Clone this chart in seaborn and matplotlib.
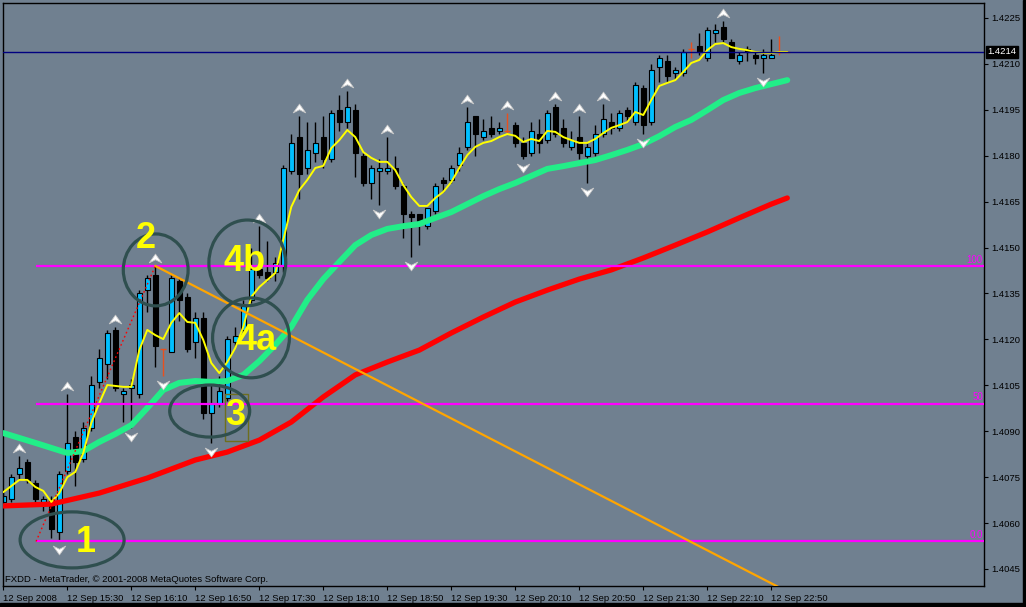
import numpy as np
import pandas as pd
import matplotlib
matplotlib.use('Agg')
import matplotlib.pyplot as plt
import matplotlib.transforms as mtransforms
from matplotlib.path import Path
from matplotlib.patches import Ellipse, Rectangle
import seaborn as sns

# M5 bars, 12 Sep 2008 from 14:50 to 23:00 (bar index 0..98)
opens = [1.4067, 1.4068, 1.4076, 1.4080, 1.4073, 1.4067, 1.4068, 1.4057, 1.4077, 1.4088,
         1.4081, 1.4091, 1.4106, 1.4112, 1.4123, 1.4102, 1.4104, 1.4102, 1.4136, 1.4141,
         1.4117, 1.4116, 1.4139, 1.4134, 1.4119, 1.4127, 1.4096, 1.4099, 1.4101, 1.4119,
         1.4123, 1.4133, 1.4143, 1.4142, 1.4142, 1.4144, 1.4175, 1.4186, 1.4176, 1.4181,
         1.4186, 1.4179, 1.4195, 1.4191, 1.4195, 1.4180, 1.4171, 1.4175, 1.4175, 1.4176,
         1.4170, 1.4161, 1.4161, 1.4157, 1.4162, 1.4172, 1.4172, 1.4177, 1.4183, 1.4193,
         1.4186, 1.4189, 1.4188, 1.4188, 1.4190, 1.4184, 1.4181, 1.4187, 1.4185, 1.4196,
         1.4189, 1.4183, 1.4186, 1.4180, 1.4181, 1.4187, 1.4191, 1.4189, 1.4195, 1.4191,
         1.4202, 1.4191, 1.4209, 1.4211, 1.4207, 1.4207, 1.4215, 1.4216, 1.4212, 1.4220,
         1.4222, 1.4217, 1.4211, 1.4215, 1.4213, 1.4212, 1.4212, 1.4214, 1.4214]
highs = [1.4070, 1.4076, 1.4082, 1.4081, 1.4074, 1.4069, 1.4069, 1.4077, 1.4102, 1.4090,
         1.4093, 1.4108, 1.4117, 1.4123, 1.4124, 1.4104, 1.4107, 1.4136, 1.4141, 1.4144,
         1.4117, 1.4141, 1.4140, 1.4135, 1.4129, 1.4129, 1.4105, 1.4108, 1.4121, 1.4124,
         1.4133, 1.4150, 1.4157, 1.4152, 1.4147, 1.4177, 1.4187, 1.4193, 1.4191, 1.4191,
         1.4193, 1.4195, 1.4200, 1.4201, 1.4197, 1.4181, 1.4177, 1.4179, 1.4186, 1.4180,
         1.4171, 1.4162, 1.4161, 1.4163, 1.4171, 1.4173, 1.4177, 1.4183, 1.4196, 1.4193,
         1.4192, 1.4193, 1.4191, 1.4194, 1.4191, 1.4186, 1.4191, 1.4192, 1.4195, 1.4197,
         1.4192, 1.4188, 1.4193, 1.4184, 1.4190, 1.4197, 1.4194, 1.4195, 1.4196, 1.4204,
         1.4203, 1.4210, 1.4213, 1.4213, 1.4209, 1.4215, 1.4217, 1.4220, 1.4222, 1.4223,
         1.4224, 1.4218, 1.4214, 1.4216, 1.4214, 1.4215, 1.4218, 1.4219, 1.4214]
lows = [1.4066, 1.4067, 1.4074, 1.4073, 1.4067, 1.4064, 1.4055, 1.4054, 1.4076, 1.4072,
        1.4080, 1.4090, 1.4104, 1.4107, 1.4103, 1.4093, 1.4091, 1.4101, 1.4129, 1.4111,
        1.4108, 1.4116, 1.4126, 1.4116, 1.4114, 1.4094, 1.4086, 1.4098, 1.4100, 1.4118,
        1.4122, 1.4132, 1.4140, 1.4139, 1.4139, 1.4142, 1.4174, 1.4166, 1.4174, 1.4178,
        1.4176, 1.4178, 1.4188, 1.4189, 1.4173, 1.4170, 1.4166, 1.4164, 1.4174, 1.4169,
        1.4153, 1.4147, 1.4151, 1.4156, 1.4161, 1.4168, 1.4171, 1.4175, 1.4182, 1.4180,
        1.4185, 1.4186, 1.4187, 1.4187, 1.4183, 1.4179, 1.4180, 1.4181, 1.4184, 1.4186,
        1.4183, 1.4182, 1.4179, 1.4171, 1.4180, 1.4186, 1.4187, 1.4188, 1.4191, 1.4190,
        1.4187, 1.4190, 1.4204, 1.4204, 1.4205, 1.4206, 1.4212, 1.4213, 1.4211, 1.4217,
        1.4217, 1.4212, 1.4210, 1.4211, 1.4210, 1.4207, 1.4212, 1.4213, 1.4214]
closes = [1.4069, 1.4075, 1.4078, 1.4074, 1.4068, 1.4068, 1.4058, 1.4076, 1.4086, 1.4080,
          1.4091, 1.4105, 1.4114, 1.4122, 1.4104, 1.4103, 1.4105, 1.4135, 1.4140, 1.4118,
          1.4117, 1.4140, 1.4133, 1.4117, 1.4127, 1.4096, 1.4099, 1.4103, 1.4120, 1.4121,
          1.4131, 1.4143, 1.4141, 1.4140, 1.4145, 1.4176, 1.4184, 1.4174, 1.4182, 1.4184,
          1.4179, 1.4194, 1.4191, 1.4196, 1.4181, 1.4171, 1.4176, 1.4176, 1.4176, 1.4170,
          1.4161, 1.4160, 1.4158, 1.4163, 1.4170, 1.4171, 1.4176, 1.4181, 1.4191, 1.4187,
          1.4188, 1.4187, 1.4189, 1.4188, 1.4184, 1.4180, 1.4188, 1.4184, 1.4194, 1.4187,
          1.4184, 1.4185, 1.4181, 1.4183, 1.4187, 1.4192, 1.4189, 1.4194, 1.4193, 1.4203,
          1.4190, 1.4208, 1.4212, 1.4206, 1.4208, 1.4214, 1.4215, 1.4214, 1.4221, 1.4221,
          1.4218, 1.4212, 1.4213, 1.4214, 1.4212, 1.4213, 1.4213, 1.4214, 1.4214]

# fast MA (yellow), one value per bar
ma_fast = [1.40701, 1.40721, 1.40741, 1.40741, 1.40718, 1.40705, 1.40669, 1.40698, 1.40750, 1.40767,
           1.40829, 1.40927, 1.40992, 1.41051, 1.41048, 1.41045, 1.41045, 1.41165, 1.41231, 1.41214,
           1.41201, 1.41254, 1.41286, 1.41257, 1.41254, 1.41198, 1.41123, 1.41090, 1.41126, 1.41172,
           1.41241, 1.41339, 1.41371, 1.41394, 1.41417, 1.41525, 1.41633, 1.41688, 1.41721, 1.41760,
           1.41767, 1.41825, 1.41851, 1.41884, 1.41861, 1.41812, 1.41793, 1.41780, 1.41780, 1.41753,
           1.41704, 1.41665, 1.41636, 1.41636, 1.41662, 1.41682, 1.41714, 1.41760, 1.41802, 1.41829,
           1.41842, 1.41848, 1.41861, 1.41871, 1.41865, 1.41845, 1.41855, 1.41848, 1.41881, 1.41878,
           1.41861, 1.41851, 1.41842, 1.41842, 1.41855, 1.41874, 1.41891, 1.41900, 1.41910, 1.41943,
           1.41933, 1.41982, 1.42028, 1.42038, 1.42047, 1.42074, 1.42103, 1.42113, 1.42145, 1.42165,
           1.42168, 1.42155, 1.42149, 1.42145, 1.42139, 1.42136, 1.42136, 1.42139, 1.42139]

# medium MA (green), read every second bar
ma_mid_bars = [0, 4, 8, 10, 12, 14, 16, 18, 20, 22, 24, 26, 28, 30, 32, 34, 36, 38, 40, 42, 44, 46, 48, 50,
               52, 54, 56, 58, 60, 62, 64, 66, 68, 70, 72, 74, 76, 78, 80, 82, 84, 86, 88, 90, 92, 94, 96, 98]
ma_mid = [1.40894, 1.40862, 1.40829, 1.40835, 1.40865, 1.40891, 1.40920, 1.40976, 1.41035, 1.41058,
          1.41064, 1.41061, 1.41064, 1.41084, 1.41129, 1.41182, 1.41241, 1.41329, 1.41397, 1.41453,
          1.41508, 1.41541, 1.41561, 1.41570, 1.41577, 1.41597, 1.41616, 1.41642, 1.41668, 1.41691,
          1.41711, 1.41734, 1.41757, 1.41766, 1.41776, 1.41786, 1.41802, 1.41819, 1.41838, 1.41864,
          1.41894, 1.41917, 1.41949, 1.41982, 1.42005, 1.42021, 1.42034, 1.42047]

# slow MA (red)
ma_slow_bars = [0, 6, 12, 18, 24, 28, 32, 36, 40, 44, 48, 52, 56, 60, 64, 68, 72, 76, 80, 84, 88, 92, 96, 98]
ma_slow = [1.40656, 1.40662, 1.40698, 1.40747, 1.40806, 1.40832, 1.40871, 1.40930, 1.41012, 1.41084,
           1.41126, 1.41165, 1.41221, 1.41273, 1.41322, 1.41361, 1.41397, 1.41427, 1.41466, 1.41508,
           1.41551, 1.41597, 1.41642, 1.41662]

fractal_up = [2, 8, 14, 19, 32, 37, 43, 48, 58, 63, 69, 72, 75, 90]
fractal_down = [7, 16, 20, 26, 47, 51, 65, 73, 80, 95]

fib_levels = [1.4054, 1.4099, 1.4144]
fib_labels = ['0.0', '50', '100']
fib_start = 4.1

trend_pts = [(19.0, 1.4144), (90.0, 1.40484)]
zigzag_pts = [(4.1, 1.4054), (19.0, 1.4144)]

# drawn wave marks: label, circle centre (bar, price), size (bars, price), text position
waves = [('1', (8.6, 1.40545), (13.0, 0.00183), (10.3, 1.40535)),
         ('2', (19.05, 1.41427), (8.1, 0.00235), (17.84, 1.41530)),
         ('4b', (30.5, 1.41450), (9.6, 0.00280), (30.2, 1.41453)),
         ('4a', (30.96, 1.41205), (9.6, 0.00261), (31.7, 1.41198)),
         ('3', (25.8, 1.40966), (10.0, 0.00170), (28.96, 1.40953))]

tick_bars = [0, 8, 16, 24, 32, 40, 48, 56, 64, 72, 80, 88, 96]
tick_labels = ['12 Sep 2008', '12 Sep 15:30', '12 Sep 16:10', '12 Sep 16:50', '12 Sep 17:30',
               '12 Sep 18:10', '12 Sep 18:50', '12 Sep 19:30', '12 Sep 20:10', '12 Sep 20:50',
               '12 Sep 21:30', '12 Sep 22:10', '12 Sep 22:50']
price_ticks = [1.4045, 1.4060, 1.4075, 1.4090, 1.4105, 1.4120, 1.4135, 1.4150,
               1.4165, 1.4180, 1.4195, 1.4210, 1.4225]
last_price = 1.4214

BG = '#708090'
sns.set_style('ticks', {'axes.facecolor': BG, 'figure.facecolor': BG,
                        'axes.edgecolor': 'black'})
plt.rcParams['font.family'] = ['Liberation Sans', 'DejaVu Sans']

bars = pd.DataFrame({'open': opens, 'high': highs, 'low': lows, 'close': closes})
bars['i'] = np.arange(len(bars))

fig = plt.figure(figsize=(10.26, 6.07), dpi=100)
ax = fig.add_axes([2.5 / 1026, 21 / 607, 981.5 / 1026, 583.5 / 607])
ax.set_facecolor(BG)

# candles
doji = np.isclose(bars['open'], bars['close'])
bull = (bars['close'] > bars['open']) & ~doji
bear = (bars['close'] < bars['open']) & ~doji
nd = bars[~doji]
ax.vlines(nd['i'], nd['low'], nd['high'], color='black', lw=1, zorder=2)
body_lo = np.minimum(bars['open'], bars['close'])
body_h = (bars['close'] - bars['open']).abs()
ax.bar(bars['i'][bull], body_h[bull], bottom=body_lo[bull], width=0.65,
       color='#00BFFF', edgecolor='black', linewidth=0.8, zorder=2.5)
ax.bar(bars['i'][bear], body_h[bear], bottom=body_lo[bear], width=0.65,
       color='black', edgecolor='black', linewidth=0.8, zorder=2.5)
dj = bars[doji]
ax.vlines(dj['i'], dj['low'], dj['high'], color='#E8501E', lw=1, zorder=2.5)
ax.hlines(dj['close'], dj['i'] - 0.35, dj['i'] + 0.35, color='#E8501E', lw=1, zorder=2.5)

# moving averages
sns.lineplot(x=ma_slow_bars, y=ma_slow, ax=ax, color='#FF0000', linewidth=3.8, zorder=3)
sns.lineplot(x=ma_mid_bars, y=ma_mid, ax=ax, color='#22EE88', linewidth=4.3, zorder=3)
sns.lineplot(x=bars['i'], y=ma_fast, ax=ax, color='#FFFF00', linewidth=1.4, zorder=3.2)

# fibonacci levels
for lvl, lab in zip(fib_levels, fib_labels):
    ax.hlines(lvl, fib_start, 122.6, color='#FF00FF', lw=1.6, zorder=3.5)
    ax.text(122.45, lvl + 0.00004, lab, color='#FF00FF', fontsize=7,
            ha='right', va='bottom', zorder=5)
ax.plot([p[0] for p in zigzag_pts], [p[1] for p in zigzag_pts], color='red',
        lw=1, ls=(0, (1.2, 2)), zorder=3.6)

# orange trend line (ray from the first anchor)
(x1, y1), (x2, y2) = trend_pts
slope = (y2 - y1) / (x2 - x1)
ax.plot([x1, 122.6], [y1, y1 + slope * (122.6 - x1)], color='#FFA500', lw=1.6, zorder=3.6)

# current price line
ax.axhline(last_price, color='#000080', lw=1, zorder=3.4)

# fractal arrows
up_path = Path([(0, 0.7), (1, -0.7), (0, -0.2), (-1, -0.7), (0, 0.7)],
               [Path.MOVETO, Path.LINETO, Path.LINETO, Path.LINETO, Path.CLOSEPOLY])
down_path = Path([(0, -0.7), (1, 0.7), (0, 0.2), (-1, 0.7), (0, -0.7)],
                 [Path.MOVETO, Path.LINETO, Path.LINETO, Path.LINETO, Path.CLOSEPOLY])
up_tr = mtransforms.offset_copy(ax.transData, fig=fig, x=0, y=8, units='dots')
dn_tr = mtransforms.offset_copy(ax.transData, fig=fig, x=0, y=-9, units='dots')
ax.plot(fractal_up, [highs[i] for i in fractal_up], ls='none', marker=up_path,
        ms=9, mfc='white', mec='#C8C8C8', mew=0.6, transform=up_tr, zorder=4)
ax.plot(fractal_down, [lows[i] for i in fractal_down], ls='none', marker=down_path,
        ms=9, mfc='white', mec='#C8C8C8', mew=0.6, transform=dn_tr, zorder=4)

# wave circles and labels
for lab, c, (w, h), tpos in waves:
    ax.add_patch(Ellipse(c, w, h, fill=False, ec='#2F4F4F', lw=2.3, zorder=4.2))
    ax.text(tpos[0], tpos[1], lab, color='#FFFF00', fontsize=26, fontweight='bold',
            ha='center', va='center', zorder=4.5)
ax.add_patch(Rectangle((27.7, 1.40868), 2.9, 0.00154, fill=False, ec='#6E6E1E',
                       lw=1, zorder=4.1))

ax.text(0.0025, 0.004, 'FXDD - MetaTrader, \u00a9 2001-2008 MetaQuotes Software Corp.',
        transform=ax.transAxes, fontsize=6.8, color='black', ha='left', va='bottom', zorder=5)

# axes
ax.set_xlim(-0.1, 122.59)
ax.set_ylim(1.403944, 1.423006)
ax.yaxis.tick_right()
ax.set_yticks(price_ticks)
ax.set_yticklabels([f'{p:.4f}' for p in price_ticks])
ax.set_xticks(tick_bars)
ax.set_xticklabels(tick_labels, ha='left')
ax.tick_params(axis='both', direction='out', length=3, width=0.8, colors='black',
               labelsize=6.8, pad=2)
ax.tick_params(axis='x', pad=3)
ax.set_xlabel('')
ax.set_ylabel('')
for s in ax.spines.values():
    s.set_visible(True)
    s.set_color('black')
    s.set_linewidth(1)

blend = mtransforms.blended_transform_factory(ax.transAxes, ax.transData)
ax.text(1.0035, last_price, f'{last_price:.4f}', transform=blend, color='white',
        fontsize=6.8, ha='left', va='center', clip_on=False, zorder=6,
        bbox=dict(boxstyle='square,pad=0.15', fc='black', ec='black'))

# window border strips
fig.patches.append(Rectangle((1022.5 / 1026, 0), 3.5 / 1026, 1, transform=fig.transFigure,
                             color='black', zorder=10))
fig.patches.append(Rectangle((0, 0), 1, 4 / 607, transform=fig.transFigure,
                             color='black', zorder=10))

fig.savefig('out.png', dpi=100, facecolor=BG)
